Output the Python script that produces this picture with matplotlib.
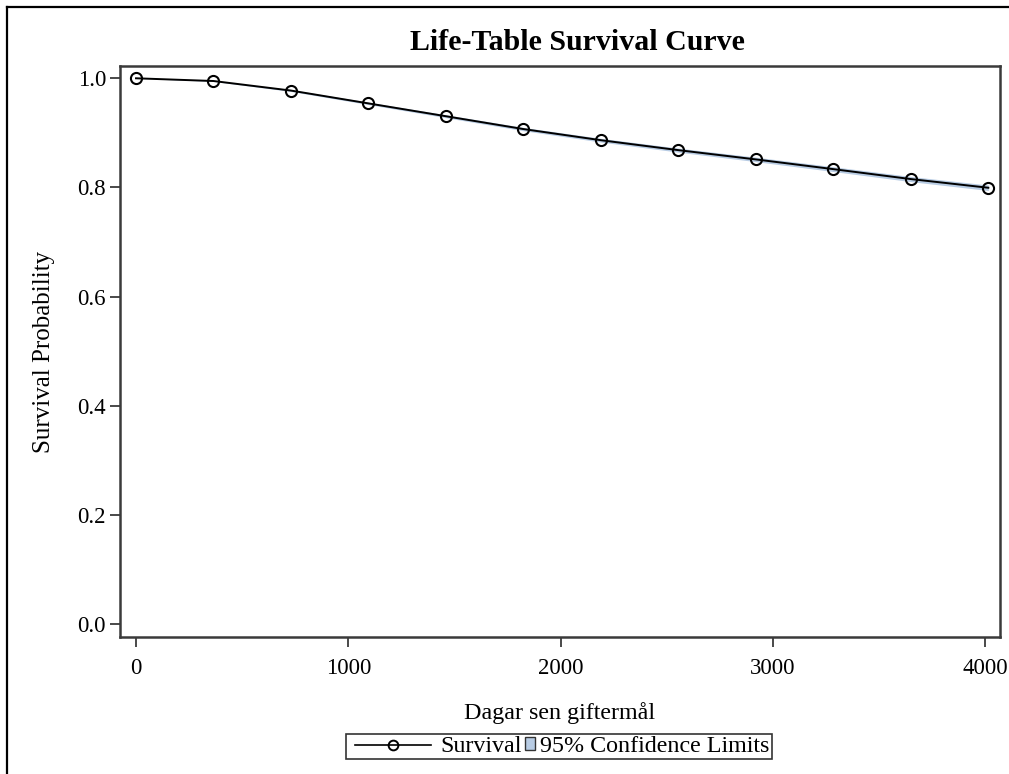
import matplotlib
matplotlib.use("Agg")
import matplotlib.pyplot as plt
from matplotlib.lines import Line2D
from matplotlib.patches import Patch
from matplotlib.legend_handler import HandlerLine2D

plt.rcParams["font.family"] = ["Liberation Serif", "DejaVu Serif"]

# life table intervals (days since marriage) and estimates
days = [0, 365, 730, 1095, 1460, 1825, 2190, 2555, 2920, 3285, 3650, 4015]
survival = [1.0, 0.995, 0.9775, 0.954, 0.9305, 0.907, 0.8866, 0.8684, 0.8514, 0.8336, 0.8154, 0.7995]
lower = [1.0, 0.9942, 0.9758, 0.9518, 0.9278, 0.9040, 0.8832, 0.8647, 0.8473, 0.8292, 0.8107, 0.7945]
upper = [1.0, 0.9958, 0.9792, 0.9562, 0.9332, 0.9100, 0.8900, 0.8721, 0.8555, 0.8380, 0.8201, 0.8045]

xticks = [0, 1000, 2000, 3000, 4000]
yticks = [0.0, 0.2, 0.4, 0.6, 0.8, 1.0]

band_color = "#b8cce4"
spine_color = "#3a3a3a"
PX = 0.72  # points per pixel at dpi 100


class WideLineHandler(HandlerLine2D):
    # line handle wider than the square patch handle
    def legend_artist(self, legend, orig_handle, fontsize, handlebox):
        handlebox.width = 87 * PX
        return super().legend_artist(legend, orig_handle, fontsize, handlebox)

    def create_artists(self, legend, orig_handle, xdescent, ydescent,
                       width, height, fontsize, trans):
        return super().create_artists(legend, orig_handle, xdescent - 6 * PX,
                                      ydescent, width - 11 * PX, height,
                                      fontsize, trans)


fig = plt.figure(figsize=(10.09, 7.74), dpi=100)
ax = fig.add_axes([120 / 1009, 1 - 637 / 774, 880 / 1009, 571 / 774])

ax.fill_between(days, lower, upper, color=band_color, lw=0)
ax.plot(days, survival, color="black", lw=1.4, marker="o", ms=8,
        mfc="none", mec="black", mew=1.5)

ax.set_xlim(-75.4, 4070)
ax.set_ylim(-0.0233, 1.0225)
ax.set_xticks(xticks)
ax.set_xticklabels([str(t) for t in xticks])
ax.set_yticks(yticks)
ax.set_yticklabels([f"{t:.1f}" for t in yticks])
ax.tick_params(direction="out", length=7, width=1.3, labelsize=16.5,
               color=spine_color)
ax.tick_params(axis="x", pad=8)
ax.tick_params(axis="y", pad=3)
for s in ax.spines.values():
    s.set_linewidth(1.8)
    s.set_color(spine_color)

ax.set_xlabel("Dagar sen giftermål", fontsize=17.3, labelpad=17)
ax.set_ylabel("Survival Probability", fontsize=18, labelpad=16)
fig.text(577.5 / 1009, 1 - 43 / 774, "Life-Table Survival Curve", ha="center",
         va="center", fontsize=21.5, fontweight="bold")

line_h = Line2D([0], [0], color="black", lw=1.2, marker="o", ms=7,
                mfc="none", mec="black", mew=1.4)
band_h = Patch(facecolor=band_color, edgecolor="#333333", lw=1.0)
leg = fig.legend([line_h, band_h], ["Survival", "95% Confidence Limits"], ncol=2,
                 loc="center", bbox_to_anchor=(559 / 1009, 1 - 746.5 / 774),
                 fontsize=17.3, frameon=True, fancybox=False,
                 handlelength=10 * PX / 17.3, handleheight=10 * PX / 17.3,
                 columnspacing=3 * PX / 17.3, handletextpad=5 * PX / 17.3,
                 borderpad=0.1, borderaxespad=0,
                 handler_map={Line2D: WideLineHandler(numpoints=1)})
leg.get_frame().set_edgecolor("black")
leg.get_frame().set_linewidth(1.2)

# outer border of the original graph (cut at right and bottom)
fig.add_artist(Line2D([7 / 1009, 1.0], [1 - 7 / 774, 1 - 7 / 774],
                      color="black", lw=1.6, transform=fig.transFigure))
fig.add_artist(Line2D([7 / 1009, 7 / 1009], [0.0, 1 - 7 / 774],
                      color="black", lw=1.6, transform=fig.transFigure))

fig.savefig("out.png", dpi=100)
